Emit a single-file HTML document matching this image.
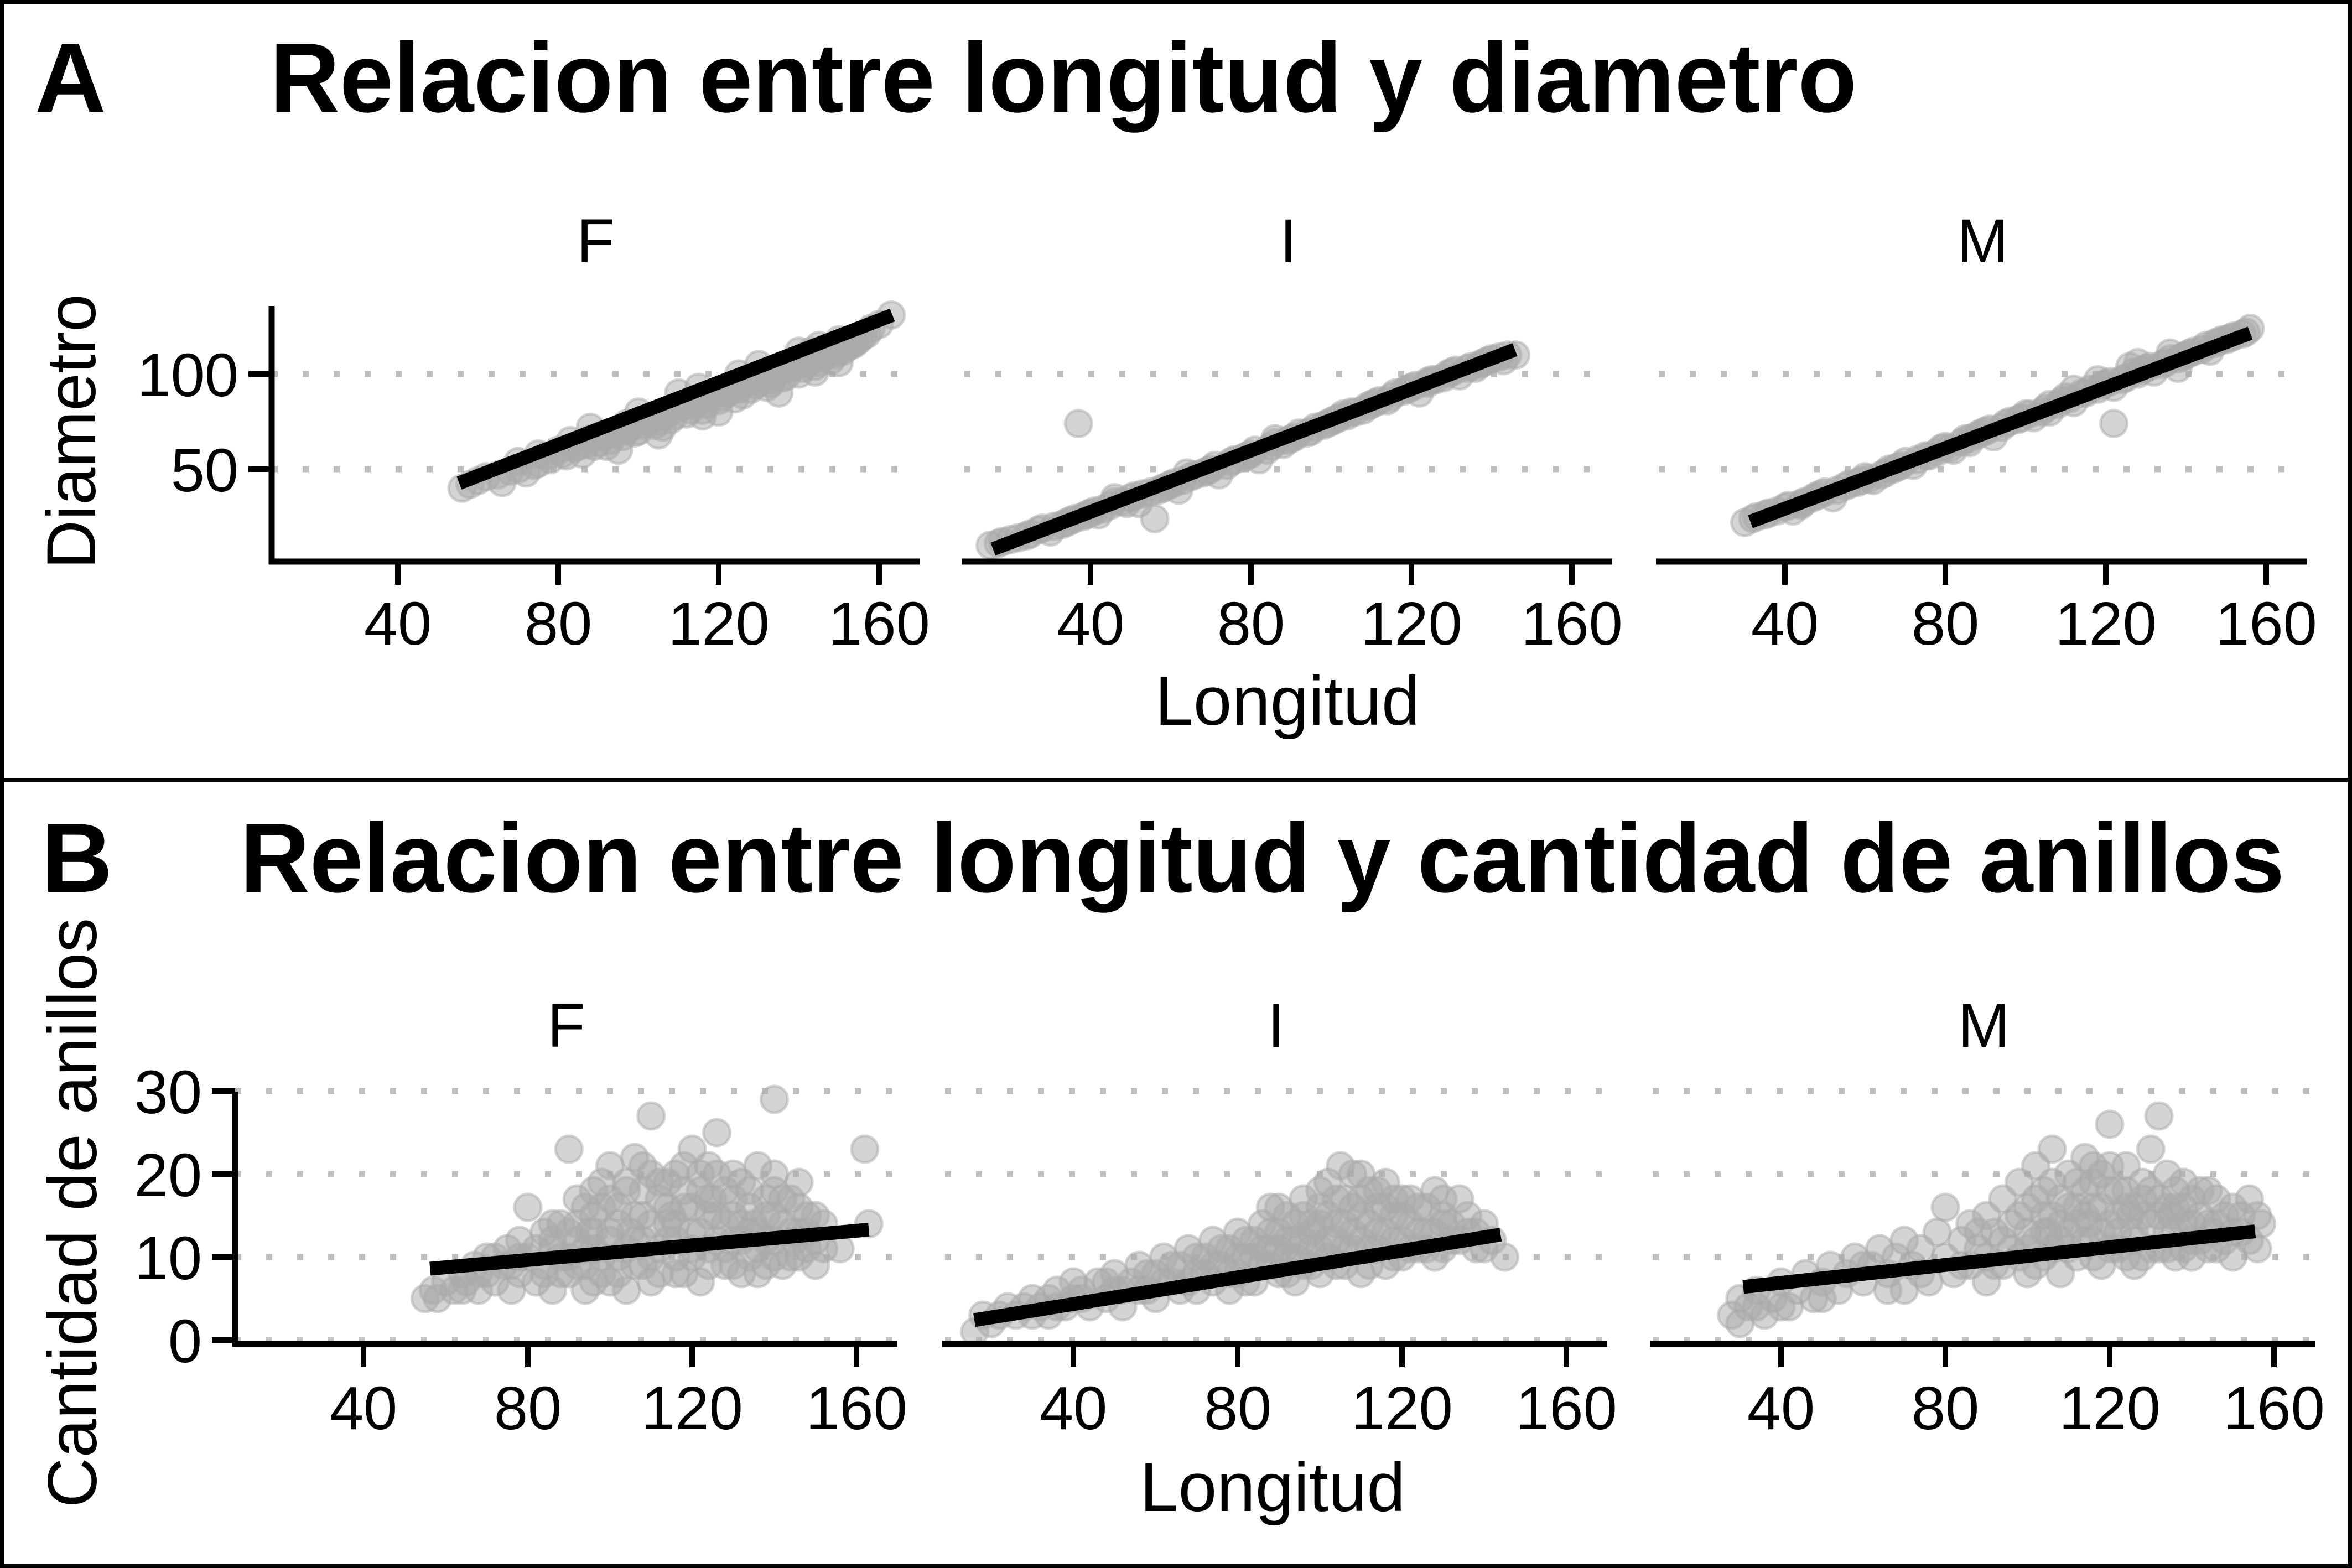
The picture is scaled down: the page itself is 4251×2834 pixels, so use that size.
<!DOCTYPE html>
<html><head><meta charset="utf-8"><style>
html,body{margin:0;padding:0;background:#fff}
svg{display:block}
text{font-family:"Liberation Sans",Arial,sans-serif;fill:#000}
</style></head><body>
<svg id="chart" xmlns="http://www.w3.org/2000/svg" width="4251" height="2834" viewBox="0 0 4251 2834">
<rect x="0" y="0" width="4251" height="2834" fill="#fff"/>
<rect x="4" y="4" width="4243" height="1406" fill="none" stroke="#000" stroke-width="8"/>
<rect x="4" y="1410" width="4243" height="1420" fill="none" stroke="#000" stroke-width="8"/>
<text x="63" y="202" font-size="178" font-weight="bold">A</text>
<text x="488" y="202" font-size="178" font-weight="bold" textLength="2868" lengthAdjust="spacingAndGlyphs">Relacion entre longitud y diametro</text>
<text x="75" y="1612" font-size="178" font-weight="bold">B</text>
<text x="434" y="1612" font-size="178" font-weight="bold" textLength="3695" lengthAdjust="spacingAndGlyphs">Relacion entre longitud y cantidad de anillos</text>
<text transform="translate(172,780) rotate(-90)" text-anchor="middle" font-size="125" textLength="497" lengthAdjust="spacingAndGlyphs">Diametro</text>
<text transform="translate(174,2192) rotate(-90)" text-anchor="middle" font-size="125" textLength="1066" lengthAdjust="spacingAndGlyphs">Cantidad de anillos</text>
<text x="2327" y="1310" text-anchor="middle" font-size="125" textLength="479" lengthAdjust="spacingAndGlyphs">Longitud</text>
<text x="2300" y="2731" text-anchor="middle" font-size="125" textLength="480" lengthAdjust="spacingAndGlyphs">Longitud</text>
<g id="layer"></g>
</svg>
<script>
const facets = ["F","I","M"];
const xTicks = [40,80,120,160];
const yTicksA = [50,100];
const yTicksB = [0,10,20,30];
const gridA = [50,100];
const gridB = [0,10,20,30];
const lineAX = [[55.3,163.3],[15.7,145.8],[31.4,156]];
const lineAY = [[42.7,131],[8,112.8],[22.4,121.5]];
const lineBX = [[56.2,163],[15.9,144],[30.8,155.4]];
const lineBY = [[8.6,13.3],[2.4,12.7],[6.4,13.1]];
const aFx = [56,60,65,66,70,72,75,78,80,82,85,86,88,90,92,94,96,98,100,102,104,106,108,110,112,114,116,118,120,122,124,126,128,130,132,134,136,138,140,142,144,146,148,150,152,154,156,158,160,163,115,125,135,105,95,140,130,120,110,100,145,150,150,88,83,70,75,91,97,133,143,154];
const aFy = [40,44,47,43,50,48,53,55,60,57,62,58,66,64,62,69,67,72,70,75,73,78,76,82,79,84,81,88,86,90,87,94,92,96,93,100,98,103,100,106,104,109,107,112,114,117,120,124,126,131,93,100,90,68,60,112,105,80,90,80,115,118,106,72,65,54,58,68,74,97,112,116];
const aFx2 = [58,62,68,74,77,81,84,87,89,91,93,97,99,101,103,105,107,109,111,113,115,117,119,121,123,125,127,129,131,133,135,137,139,141,143,145,147,149,151,153,155,157,136,144,126,116,106];
const aFy2 = [42,46,49,52,57,58,61,63,62,67,65,70,69,73,76,75,79,78,83,81,86,84,90,88,91,92,96,94,98,95,101,99,104,103,107,106,110,110,112,115,118,121,104,101,89,78,72];
const aIx = [15,18,22,25,28,30,33,35,37,38,40,42,45,48,50,52,55,56,58,60,62,65,68,70,72,75,78,80,82,85,88,90,92,95,98,100,102,105,108,110,112,115,118,120,122,125,128,130,132,135,138,140,143,146,46,64,86,103,124,136];
const aIy = [10,12,14,16,19,17,21,23,74,25,27,26,31,33,35,32,38,24,40,42,39,46,48,50,47,54,56,58,55,62,63,66,69,70,73,75,77,80,81,84,86,88,91,93,90,97,98,101,99,104,106,108,107,110,35,48,66,79,96,103];
const aIx2 = [17,20,24,27,31,34,36,39,41,43,46,49,51,53,57,59,61,63,66,69,71,74,76,79,81,84,86,89,91,94,96,99,101,104,106,109,111,114,116,119,121,124,126,129,131,134,137,139,142,144];
const aIy2 = [11,13,15,18,20,22,24,26,28,29,33,32,36,37,39,41,43,44,47,49,52,52,55,57,60,60,64,65,67,69,72,74,76,78,80,83,85,86,90,92,94,95,97,100,102,103,105,107,109,110];
const aMx = [30,33,36,40,42,45,48,50,52,55,58,60,62,65,68,70,72,75,78,80,82,85,88,90,92,95,98,100,102,105,108,110,112,115,118,120,122,122,125,128,130,132,135,138,140,142,145,148,150,152,155,156,118,128,138,44,66,86,106,146];
const aMy = [22,25,27,30,28,33,36,38,35,41,43,46,44,48,51,54,52,57,59,62,60,66,68,70,67,74,76,79,77,82,84,88,85,90,92,95,74,93,98,100,103,101,106,108,110,112,115,117,118,120,122,124,97,106,103,31,50,64,80,112];
const aMx2 = [32,35,38,41,44,47,49,53,56,59,61,64,67,69,73,76,79,81,84,86,89,91,94,96,99,101,104,106,109,111,114,116,119,121,124,127,129,131,134,136,139,141,144,147,149,151,154,126,136,112];
const aMy2 = [24,26,28,31,32,35,37,39,42,44,45,47,50,52,55,57,61,61,64,66,69,71,72,75,77,79,80,84,86,87,90,92,94,96,97,101,102,104,105,108,109,111,113,116,118,119,121,104,111,92];
const bFx = [55,57,58,60,62,64,65,67,68,70,70,72,74,75,76,78,78,80,80,82,84,84,86,86,88,88,90,90,92,92,94,94,96,96,98,98,100,100,100,102,102,104,104,106,106,108,108,110,110,110,112,112,114,114,116,116,118,118,120,120,120,122,122,124,124,126,126,128,128,130,130,132,132,134,134,136,136,138,138,140,140,142,144,144,146,146,148,148,150,152,140,162,163,156,115,125,105,95,135,145];
const bFy = [5,6,5,7,6,8,7,9,6,8,10,7,9,11,6,8,12,10,16,7,9,13,11,6,14,8,10,23,12,17,6,9,15,11,19,8,13,21,7,10,16,18,6,12,22,9,15,20,27,7,11,17,14,19,8,12,21,16,10,13,23,18,7,15,11,20,25,9,14,17,12,19,8,13,16,11,21,15,9,18,12,14,10,17,13,19,11,15,12,14,29,23,14,11,15,17,13,13,14,12];
const bFx2 = [82,84,86,88,90,90,92,92,94,94,96,96,98,98,100,100,102,102,104,104,106,106,108,108,110,110,112,112,114,114,116,116,118,118,120,120,122,122,124,124,126,126,128,128,130,130,132,132,134,134,136,136,138,138,140,140,142,142,144,146,146,148,150,150,152,76,72,68,64,78,86,96,108,116,124,130,140];
const bFy2 = [11,8,12,10,13,8,14,9,11,16,7,13,10,16,12,17,8,14,11,19,9,15,12,18,10,14,8,19,12,16,10,14,18,8,11,16,13,20,9,17,12,15,11,18,9,15,12,14,10,18,13,8,12,17,10,15,9,17,13,10,16,13,9,15,11,9,10,8,6,10,14,18,21,20,21,20,20];
const bIx = [16,18,20,22,24,26,28,30,30,32,34,34,36,38,40,40,42,44,46,48,50,50,52,54,56,58,60,60,62,64,66,66,68,70,70,72,74,74,76,78,78,80,80,82,84,84,86,86,88,88,90,90,92,92,94,94,96,96,98,98,100,100,102,102,104,104,106,106,108,108,110,110,112,112,114,114,116,116,118,118,120,120,122,124,124,126,128,128,130,132,134,136,138,140,142,145,105,110];
const bIy = [1,3,2,3,4,3,4,5,3,4,5,3,6,4,5,7,6,4,7,5,8,6,4,7,9,6,8,5,10,7,9,6,11,8,6,10,12,7,9,11,6,13,8,10,12,7,14,9,11,16,8,13,10,15,12,7,17,9,14,11,16,8,19,12,14,9,17,11,20,13,15,8,18,11,16,13,19,9,15,12,17,10,14,16,11,13,18,10,15,12,17,13,11,14,12,10,21,20];
const bIx2 = [36,42,48,52,56,58,62,64,68,70,72,74,76,78,80,82,82,84,86,88,88,90,92,92,94,94,96,98,98,100,100,102,102,104,104,106,106,108,108,110,110,112,112,114,114,116,116,118,118,120,120,122,122,124,126,126,128,130,130,132,134,136,138,140,130,100,96,90];
const bIy2 = [4,5,7,6,6,8,7,9,7,10,8,9,11,8,10,7,12,10,11,9,13,11,8,12,10,14,12,9,13,11,14,10,15,12,17,9,14,11,16,12,17,9,14,11,18,13,16,10,17,12,15,11,17,13,11,16,13,11,17,14,12,15,13,11,14,18,15,16];
const bMx = [28,30,30,32,34,36,38,40,42,44,46,48,50,52,54,56,58,60,62,64,66,68,70,70,72,74,76,78,80,80,82,84,86,86,88,90,90,92,94,94,96,98,98,100,100,102,102,104,104,106,106,108,108,110,110,112,112,114,114,116,116,118,118,120,120,122,122,124,124,126,126,128,128,130,130,132,132,134,134,136,136,138,138,140,140,142,144,144,146,148,150,152,154,156,157,115,125,105,135,145];
const bMy = [3,5,2,4,6,3,5,7,4,6,8,5,7,9,6,8,10,7,9,11,8,10,12,6,9,11,7,13,10,16,8,12,14,9,11,15,7,13,17,9,11,15,19,8,13,17,21,10,15,19,23,12,8,16,20,14,10,18,22,12,16,20,9,14,26,18,11,16,21,13,9,19,15,23,11,17,27,13,20,16,10,19,14,12,17,15,11,18,14,12,16,13,17,11,14,14,15,13,15,13];
const bMx2 = [84,88,90,92,94,96,98,100,100,102,102,104,104,106,106,108,108,110,110,112,112,114,114,116,116,118,118,120,120,120,122,122,124,124,126,126,128,128,130,130,132,132,134,134,136,136,138,138,140,140,142,142,144,146,146,148,150,150,152,154,156,60,50,40,34,66,74,116];
const bMy2 = [9,13,10,9,12,14,10,11,16,12,9,13,18,11,15,14,17,11,13,16,19,12,15,10,19,13,16,11,18,21,13,15,10,18,16,12,10,17,14,18,11,15,16,11,13,18,11,16,14,10,12,18,14,11,17,15,13,10,15,12,15,9,5,4,4,6,8,21];

const offA = [0,1252,2507];
const offB = [0,1283,2562];
function xA(f,v){ return 719 + offA[f] + (v-40)*7.25; }
function yA(v){ return 676 - (v-100)*3.44; }
function xB(f,v){ return 657 + offB[f] + (v-40)*7.425; }
function yB(v){ return 2422 - v*15; }

const NS = "http://www.w3.org/2000/svg";
const layer = document.getElementById('layer');
function mk(tag, attrs, parent){
  const e = document.createElementNS(NS, tag);
  for (const k in attrs) e.setAttribute(k, attrs[k]);
  (parent||layer).appendChild(e);
  return e;
}
const ptsA = [[aFx.concat(aFx2),aFy.concat(aFy2)],[aIx.concat(aIx2),aIy.concat(aIy2)],[aMx.concat(aMx2),aMy.concat(aMy2)]];
const ptsB = [[bFx.concat(bFx2),bFy.concat(bFy2)],[bIx.concat(bIx2),bIy.concat(bIy2)],[bMx.concat(bMx2),bMy.concat(bMy2)]];

function drawPanel(p){
  const isA = p==='A';
  const xs = isA ? xA : xB;
  const ys = isA ? yA : yB;
  const offs = isA ? offA : offB;
  const axL = isA ? 491 : 425, axR = isA ? 1662 : 1622;
  const axTop = isA ? 553 : 1973, axBot = isA ? 1015 : 2429;
  const grid = isA ? gridA : gridB;
  const yT = isA ? yTicksA : yTicksB;
  const pts = isA ? ptsA : ptsB;
  const lx = isA ? lineAX : lineBX, ly = isA ? lineAY : lineBY;
  const stripY = isA ? 474 : 1892;
  for (let f=0; f<3; f++){
    const g = mk('g', {});
    
    
    const L = axL + offs[f], R = axR + offs[f];
    grid.forEach(v=>{
      const gl = mk('line', {x1:L, x2:R, y1:ys(v), y2:ys(v), stroke:'#bebebe', 'stroke-width':11, 'stroke-dasharray':'11 45'}, g);
      
      
    });
    const px = pts[f][0], py = pts[f][1];
    const n = Math.min(px.length, py.length);
    for (let i=0;i<n;i++){
      const c = mk('circle', {cx:xs(f,px[i]), cy:ys(py[i]), r:24, fill:'#a9a9a9', 'fill-opacity':0.5, stroke:'#a9a9a9', 'stroke-opacity':0.5, 'stroke-width':5}, g);
      
      
    }
    const rl = mk('line', {x1:xs(f,lx[f][0]), y1:ys(ly[f][0]), x2:xs(f,lx[f][1]), y2:ys(ly[f][1]), stroke:'#000', 'stroke-width':25}, g);
    
    
    const xa = mk('line', {x1:L-5, x2:R, y1:axBot, y2:axBot, stroke:'#000', 'stroke-width':11}, g);
    
    
    xTicks.forEach(v=>{
      const tk = mk('line', {x1:xs(f,v), x2:xs(f,v), y1:axBot, y2:axBot+42, stroke:'#000', 'stroke-width':10}, g);
      
      
      const tl = mk('text', {x:xs(f,v), y:axBot+(isA?150:154), 'text-anchor':'middle', 'font-size':110}, g);
      tl.textContent = v;
      
      
    });
    const st = mk('text', {x:(L+R)/2, y:stripY, 'text-anchor':'middle', 'font-size':112}, g);
    st.textContent = facets[f];
    
    
    if (f===0){
      const ya = mk('line', {x1:L, x2:L, y1:axTop, y2:axBot+5, stroke:'#000', 'stroke-width':11}, g);
      
      
      yT.forEach(v=>{
        const tk = mk('line', {x1:L-42, x2:L, y1:ys(v), y2:ys(v), stroke:'#000', 'stroke-width':10}, g);
        
        
        const tl = mk('text', {x:L-60, y:ys(v)+40, 'text-anchor':'end', 'font-size':110}, g);
        tl.textContent = v;
        
        
      });
    }
  }
}
drawPanel('A');
drawPanel('B');
</script>
</body></html>
